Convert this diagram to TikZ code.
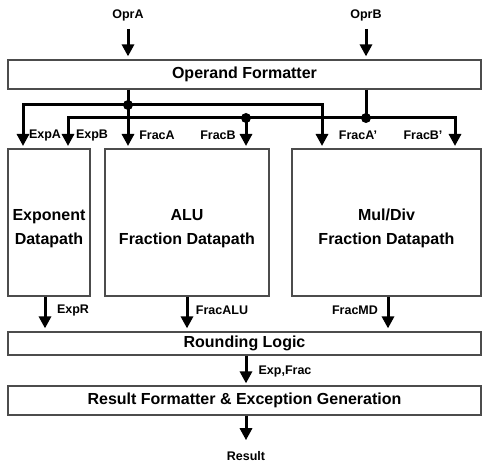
\documentclass[tikz,border=0pt]{standalone}
\usepackage{fontspec}
\setmainfont{Liberation Sans}
\usetikzlibrary{arrows.meta}

\tikzset{
  blk/.style={draw=black!70, line width=1.2pt, inner sep=0pt, align=center,
    font=\bfseries\fontsize{16}{24}\selectfont},
  blktext/.style={inner sep=0pt, align=center, font=\bfseries\fontsize{16}{24}\selectfont},
  sig/.style={line width=3pt, -{Triangle[length=12pt,width=12pt]}},
  lbl/.style={inner sep=0pt, font=\bfseries\fontsize{12.5}{15}\selectfont},
}

\begin{document}
\begin{tikzpicture}[x=1pt,y=-1pt]
  \useasboundingbox (0,0) rectangle (482,465);

  % blocks
  \node[blk, minimum width=473pt, minimum height=29pt] (fmt) at (244.5,74.5) {Operand Formatter};
  \node[blk, minimum width=82pt, minimum height=147pt] (expbox) at (49,222.5) {};
  \node[blk, minimum width=164pt, minimum height=147pt] (alubox) at (187,222.5) {};
  \node[blk, minimum width=189pt, minimum height=147pt] (mdbox) at (386.5,222.5) {};
  \node[blktext] (expText) at ([yshift=-6pt]expbox.center) {Exponent\\Datapath};
  \node[blktext] (aluText) at ([yshift=-6pt]alubox.center) {ALU\\Fraction Datapath};
  \node[blktext] (mdText) at ([yshift=-6pt]mdbox.center) {Mul/Div\\Fraction Datapath};
  \node[blk, minimum width=473pt, minimum height=23pt] (rnd) at (244.5,343.5) {Rounding Logic};
  \node[blk, minimum width=473pt, minimum height=29pt] (resfmt) at (244.5,400.5) {Result Formatter \& Exception Generation};

  % operands in
  \node[lbl] (oprA) at (128,15) {OprA};
  \node[lbl] (oprB) at (366,15) {OprB};
  \draw[sig, shorten <=8pt, shorten >=3pt] (oprA.south) -- (oprA |- fmt.north);
  \draw[sig, shorten <=8pt, shorten >=3pt] (oprB.south) -- (oprB |- fmt.north);

  % buses
  \coordinate (dA) at (128,105);
  \coordinate (dB1) at (246,118);
  \coordinate (dB2) at (366,118);
  \coordinate (inExpA) at (23,146);
  \coordinate (inExpB) at (68,146);
  \coordinate (inFracA) at (128,146);
  \coordinate (inFracB) at (246,146);
  \coordinate (inFracAp) at (322,146);
  \coordinate (inFracBp) at (455,146);

  \draw[sig] (fmt.south -| dA) -- (dA) -| (inFracAp);
  \draw[sig] (dA) -| (inExpA);
  \draw[sig] (dA) -- (inFracA);
  \draw[sig] (fmt.south -| dB2) -- (dB2) -| (inFracBp);
  \draw[sig] (dB2) -| (inExpB);
  \draw[sig] (dB1) -- (inFracB);
  \foreach \d in {dA,dB1,dB2}
    \fill (\d) circle (5pt);

  \node[lbl] (lExpA) at (45,135) {ExpA};
  \node[lbl] (lExpB) at (92,135) {ExpB};
  \node[lbl] (lFracA) at (157,135) {FracA};
  \node[lbl] (lFracB) at (218,135) {FracB};
  \node[lbl] (lFracAp) at (358,135) {FracA’};
  \node[lbl] (lFracBp) at (423,135) {FracB’};

  % results
  \draw[sig, shorten >=3pt] ([xshift=-4pt]expbox.south) -- ([xshift=-4pt]expbox.south |- rnd.north);
  \draw[sig, shorten >=3pt] (alubox.south) -- (alubox.south |- rnd.north);
  \draw[sig, shorten >=3pt] ([xshift=1.5pt]mdbox.south) -- ([xshift=1.5pt]mdbox.south |- rnd.north);
  \node[lbl] (lExpR) at (73,310) {ExpR};
  \node[lbl] (lFracALU) at (222,310) {FracALU};
  \node[lbl] (lFracMD) at (355,310) {FracMD};

  \draw[sig, shorten >=2pt] ([xshift=1.5pt]rnd.south) -- ([xshift=1.5pt]resfmt.north);
  \node[lbl] (lExpFrac) at (285,371) {Exp,Frac};

  \node[lbl] (res) at (246,456) {Result};
  \draw[sig, shorten >=11pt] (resfmt.south -| res) -- (res.north);
\end{tikzpicture}
\end{document}
